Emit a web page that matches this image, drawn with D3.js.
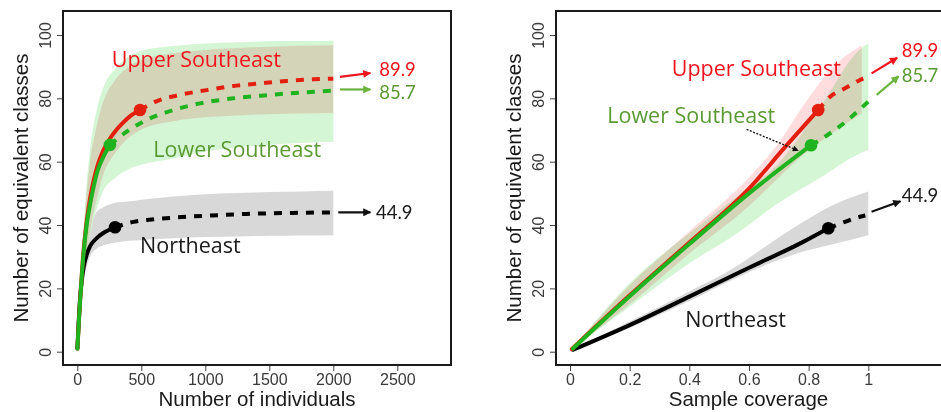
<!DOCTYPE html>
<html><head><meta charset="utf-8">
<script src="https://cdn.jsdelivr.net/npm/d3@7"></script>
<style>
body{margin:0;background:#fff}
svg{display:block}
</style></head><body>
<svg id="chart" width="941" height="412"></svg>
<script>
// ---------- DATA ----------
const yTicks = [0, 20, 40, 60, 80, 100];
const indivTicks = [0, 500, 1000, 1500, 2000, 2500];
const covTicks = [0, 0.2, 0.4, 0.6, 0.8, 1];
const covTickLabels = ["0", "0.2", "0.4", "0.6", "0.8", "1"];
const regionNames = ["Upper Southeast", "Lower Southeast", "Northeast"];
const asymptoteLabels = ["89.9", "85.7", "44.9"];

// Left panel: number of individuals
const upperObsN = [1, 10, 21, 47, 73, 100, 130, 160, 200, 250, 300, 350, 411, 490];
const upperObsY = [1, 8, 15.5, 31, 41, 48.5, 54.5, 59, 63.3, 67, 69.8, 72, 74.3, 76.3];
const upperExtN = [490, 607, 802, 1011, 1219, 1427, 1636, 1844, 2000];
const upperExtY = [76.3, 78.9, 81.1, 82.6, 83.9, 84.7, 85.5, 86, 86.2];
const lowerObsN = [1, 10, 21, 47, 73, 100, 130, 160, 200, 255];
const lowerObsY = [1, 8, 15.3, 30, 40, 46.5, 52.5, 57.3, 61.2, 65.3];
const lowerExtN = [255, 386, 542, 750, 958, 1219, 1480, 1740, 2000];
const lowerExtY = [65.3, 69.5, 73.2, 76.3, 78.4, 80, 81, 81.8, 82.4];
const northObsN = [1, 10, 20, 35, 50, 75, 100, 150, 200, 250, 295];
const northObsY = [1, 9, 16, 22.5, 26.8, 30.8, 33.3, 35.8, 37.4, 38.5, 39.3];
const northExtN = [295, 438, 600, 854, 1100, 1323, 1650, 2000];
const northExtY = [39.3, 41, 41.8, 42.6, 43.1, 43.5, 43.8, 44];

const bandN = [1, 25, 50, 75, 100, 150, 200, 300, 400, 500, 750, 1000, 1250, 1500, 1750, 2000];
const lowerBandUpN = [1, 24, 40, 54, 64, 76, 83, 89.5, 93.2, 95, 96.5, 97.3, 97.7, 98, 98.1, 98.2];
const lowerBandLoN = [1, 12, 22, 31, 37, 45, 50.5, 55, 57.6, 59, 61, 63.2, 64.5, 65.3, 65.9, 66.3];
const upperBandUpN = [1, 23, 38, 51, 60, 71, 78.5, 86, 90, 92, 94.2, 95.3, 95.9, 96.3, 96.6, 96.8];
const upperBandLoN = [1, 12, 22, 31, 38, 48, 55.5, 63, 67.5, 70.2, 72.8, 74, 74.6, 75, 75.2, 75.4];
const northBandUpN = [1, 20, 31, 36, 40, 44, 45.5, 47, 47.4, 48, 49, 49.7, 50.1, 50.4, 50.6, 50.8];
const northBandLoN = [1, 12, 23, 27, 30, 32.5, 33.5, 34.5, 35, 35.3, 35.8, 36.2, 36.4, 36.6, 36.7, 36.8];

// Right panel: sample coverage
const upperObsC = [0.006, 0.2, 0.4, 0.6, 0.72, 0.832];
const upperObsCY = [0.8, 17.8, 34.5, 51.5, 64.5, 76.3];
const upperExtC = [0.832, 0.872, 0.922, 0.972, 0.983];
const upperExtCY = [76.3, 80.5, 83.2, 85.8, 86.3];
const lowerObsC = [0.01, 0.2, 0.4, 0.6, 0.808];
const lowerObsCY = [1, 17.5, 34, 50, 65.2];
const lowerExtC = [0.808, 0.86, 0.905, 0.944, 0.975, 1.0];
const lowerExtCY = [65.2, 68.2, 71.2, 74.2, 76.8, 79];
const northObsC = [0.01, 0.2, 0.4, 0.6, 0.78, 0.866];
const northObsCY = [0.6, 8.4, 17.4, 26.5, 34.6, 39];
const northExtC = [0.866, 0.922, 0.972, 0.99];
const northExtCY = [39, 41, 42.6, 43];

const lowerBandC = [0.01, 0.2, 0.4, 0.56, 0.7, 0.84, 0.97, 1.0];
const lowerBandUpC = [1, 21.6, 37.4, 49, 59.5, 77.4, 95.3, 97.4];
const lowerBandLoC = [1, 14.2, 27.9, 37.4, 47, 55, 62.5, 63.7];
const upperBandC = [0.006, 0.2, 0.4, 0.6, 0.7, 0.78, 0.894, 0.978];
const upperBandUpC = [0.8, 21, 38, 55, 66, 77.4, 91, 96.8];
const upperBandLoC = [0.8, 15, 31, 46, 55, 62, 70, 75.3];
const northBandC = [0.01, 0.2, 0.4, 0.556, 0.67, 0.782, 0.87, 1.0];
const northBandUpC = [0.6, 9.5, 19, 26.8, 34.2, 41, 45.8, 50.6];
const northBandLoC = [0.6, 7.5, 16, 23.2, 27.9, 31.6, 33.7, 36.8];

// ---------- STYLE ----------
const RED = "#e3200f", GREEN = "#1fb41f", BLACK = "#000";
const RED_TXT = "#f0141e", GREEN_TXT = "#5b9a32", GREEN_ARROW = "#6cb33f";
const GREEN_BAND = "#d4f6d4", RED_BAND = "#ffdcde", GRAY_BAND = "#d8d8d8";

const svg = d3.select("#chart");
const defs = svg.append("defs");
function marker(id, color, w, h) {
  defs.append("marker").attr("id", id)
    .attr("viewBox", "0 0 10 10").attr("refX", 9).attr("refY", 5)
    .attr("markerWidth", w).attr("markerHeight", h)
    .attr("markerUnits", "userSpaceOnUse").attr("orient", "auto")
    .append("path").attr("d", "M0,0L10,5L0,10z").attr("fill", color);
}
marker("ah-red", RED_TXT, 11, 8);
marker("ah-green", GREEN_ARROW, 11, 8);
marker("ah-black", "#111", 11, 8);
marker("ah-small", "#111", 7, 6);

const zip = (a, b) => a.map((v, i) => [v, b[i]]);
const zip3 = (a, b, c) => a.map((v, i) => [v, b[i], c[i]]);

function panel(opts) {
  const { x, y, box, g } = opts;
  const area = d3.area().x(d => x(d[0])).y0(d => y(d[1])).y1(d => y(d[2])).curve(d3.curveMonotoneX);
  const line = d3.line().x(d => x(d[0])).y(d => y(d[1])).curve(d3.curveMonotoneX);

  g.append("path").datum(opts.northBand).attr("d", area).attr("fill", GRAY_BAND);
  g.append("path").datum(opts.lowerBand).attr("d", area).attr("fill", GREEN_BAND);
  g.append("path").datum(opts.upperBand).attr("d", area).attr("fill", RED_BAND)
    .style("mix-blend-mode", "multiply");

  const series = [
    { obs: opts.northObs, ext: opts.northExt, c: BLACK },
    { obs: opts.upperObs, ext: opts.upperExt, c: RED },
    { obs: opts.lowerObs, ext: opts.lowerExt, c: GREEN },
  ];
  series.forEach(s => {
    g.append("path").datum(s.ext).attr("d", line).attr("fill", "none")
      .attr("stroke", s.c).attr("stroke-width", 4).attr("stroke-dasharray", "8,8");
  });
  series.forEach(s => {
    g.append("path").datum(s.obs).attr("d", line).attr("fill", "none")
      .attr("stroke", s.c).attr("stroke-width", 4).attr("stroke-linecap", "round");
  });
  series.forEach(s => {
    const last = s.obs[s.obs.length - 1];
    g.append("circle").attr("cx", x(last[0])).attr("cy", y(last[1])).attr("r", 6.3).attr("fill", s.c);
  });

  // box
  g.append("rect").attr("x", box[0]).attr("y", box[1]).attr("width", box[2] - box[0]).attr("height", box[3] - box[1])
    .attr("fill", "none").attr("stroke", "#1a1a1a").attr("stroke-width", 2);

  // axes
  const xa = g.append("g").attr("transform", `translate(0,${box[3]})`)
    .call(d3.axisBottom(x).tickValues(opts.xTicks).tickFormat((d, i) => opts.xLabels[i]).tickSize(5).tickSizeOuter(0));
  xa.select(".domain").remove();
  xa.selectAll("line").attr("stroke", "#444").attr("transform", "translate(0,1)");
  xa.selectAll("text").attr("y", 20).attr("dy", 0)
    .style("font-family", "'Liberation Sans', Arial, sans-serif").style("font-size", "16px").attr("fill", "#3a3a3a");

  const ya = g.append("g").attr("transform", `translate(${box[0]},0)`)
    .call(d3.axisLeft(y).tickValues(yTicks).tickSize(5).tickSizeOuter(0));
  ya.select(".domain").remove();
  ya.selectAll("line").attr("stroke", "#444").attr("transform", "translate(-1,0)");
  ya.selectAll("text").attr("transform", "rotate(-90)").attr("x", 0).attr("y", -12.5).attr("dy", 0)
    .style("text-anchor", "middle")
    .style("font-family", "'Liberation Sans', Arial, sans-serif").style("font-size", "16px").attr("fill", "#3a3a3a");

  // axis titles
  g.append("text").attr("x", (box[0] + Math.min(box[2], 941)) / 2).attr("y", 406)
    .attr("text-anchor", "middle").style("font-family", "'Liberation Sans', Arial, sans-serif")
    .style("font-size", "20.5px").attr("fill", "#1a1a1a").text(opts.xTitle);
  g.append("text").attr("transform", `translate(${box[0] - 35},${(box[1] + box[3]) / 2}) rotate(-90)`)
    .attr("text-anchor", "middle").style("font-family", "'Liberation Sans', Arial, sans-serif")
    .style("font-size", "20.5px").attr("fill", "#1a1a1a").text("Number of equivalent classes");

  // region labels
  const lf = "'Open Sans', 'Noto Sans', sans-serif";
  const labCols = [RED_TXT, GREEN_TXT, "#1a1a1a"];
  opts.labelPos.forEach((p, i) => {
    g.append("text").attr("x", x(p[0])).attr("y", y(p[1]))
      .style("font-family", lf).style("font-size", "21.5px").attr("fill", labCols[i]).text(regionNames[i]);
  });
  // asymptote arrows and values
  const arrCols = [RED_TXT, GREEN_ARROW, "#111"];
  const arrIds = ["ah-red", "ah-green", "ah-black"];
  const valCols = [RED_TXT, GREEN_TXT, "#1a1a1a"];
  opts.arrows.forEach((a, i) => {
    g.append("line").attr("x1", x(a[0])).attr("y1", y(a[1])).attr("x2", x(a[2])).attr("y2", y(a[3]))
      .attr("stroke", arrCols[i]).attr("stroke-width", 2.2).attr("marker-end", `url(#${arrIds[i]})`);
  });
  opts.valuePos.forEach((p, i) => {
    g.append("text").attr("x", x(p[0])).attr("y", y(p[1])).attr("dy", "0.36em")
      .style("font-family", "Lato, 'Open Sans', sans-serif").style("font-size", "18.5px")
      .attr("fill", valCols[i]).text(asymptoteLabels[i]);
  });
}

// Left panel
const yScale = d3.scaleLinear().domain([0, 100]).range([351.7, 35]);
const xN = d3.scaleLinear().domain([0, 2500]).range([77.3, 397.3]);
const gL = svg.append("g");
panel({
  g: gL, x: xN, y: yScale,
  box: [63, 11, 451, 365],
  xTicks: indivTicks, xLabels: indivTicks.map(String), xTitle: "Number of individuals",
  northBand: zip3(bandN, northBandLoN, northBandUpN),
  lowerBand: zip3(bandN, lowerBandLoN, lowerBandUpN),
  upperBand: zip3(bandN, upperBandLoN, upperBandUpN),
  upperObs: zip(upperObsN, upperObsY), upperExt: zip(upperExtN, upperExtY),
  lowerObs: zip(lowerObsN, lowerObsY), lowerExt: zip(lowerExtN, lowerExtY),
  northObs: zip(northObsN, northObsY), northExt: zip(northExtN, northExtY),
  labelPos: [[269, 90], [594, 61.6], [490, 31.1]],
  arrows: [[2052, 86.8, 2290, 88], [2052, 82.8, 2290, 82.8], [2039, 44, 2290, 44]],
  valuePos: [[2359, 89.1], [2359, 82.0], [2334, 44]]
});

// Right panel
const xC = d3.scaleLinear().domain([0, 1]).range([570, 868.3]);
const gR = svg.append("g");
panel({
  g: gR, x: xC, y: yScale,
  box: [556, 11, 960, 365],
  xTicks: covTicks, xLabels: covTickLabels, xTitle: "Sample coverage",
  northBand: zip3(northBandC, northBandLoC, northBandUpC),
  lowerBand: zip3(lowerBandC, lowerBandLoC, lowerBandUpC),
  upperBand: zip3(upperBandC, upperBandLoC, upperBandUpC),
  upperObs: zip(upperObsC, upperObsCY), upperExt: zip(upperExtC, upperExtCY),
  lowerObs: zip(lowerObsC, lowerObsCY), lowerExt: zip(lowerExtC, lowerExtCY),
  northObs: zip(northObsC, northObsCY), northExt: zip(northExtC, northExtCY),
  labelPos: [[0.341, 87.1], [0.125, 72.1], [0.386, 7.9]],
  arrows: [[1.011, 87.9, 1.097, 92.8], [1.028, 81.1, 1.102, 87], [1.011, 44.2, 1.108, 47.5]],
  valuePos: [[1.112, 95.0], [1.112, 87.2], [1.112, 49.5]]
});
// dotted pointer to Lower Southeast observed point
gR.append("line").attr("x1", xC(0.592)).attr("y1", yScale(70.2)).attr("x2", xC(0.765)).attr("y2", yScale(63.5))
  .attr("stroke", "#111").attr("stroke-width", 1.3).attr("stroke-dasharray", "2,1.5")
  .attr("marker-end", "url(#ah-small)");
</script>
</body></html>
